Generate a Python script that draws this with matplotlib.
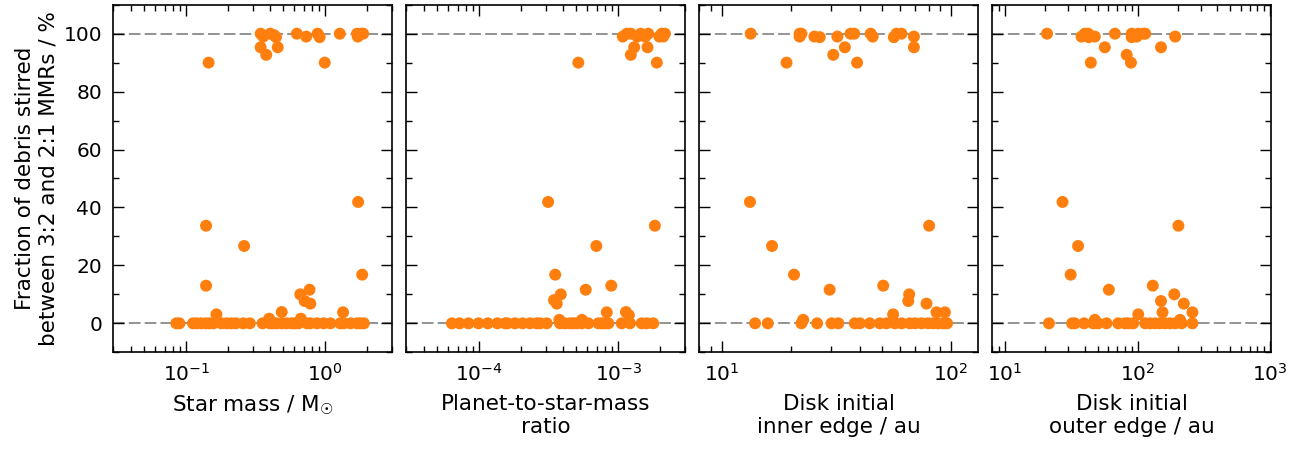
import matplotlib
matplotlib.use("Agg")
import matplotlib.pyplot as plt
from matplotlib.ticker import LogLocator, MultipleLocator, NullFormatter

# ---- Panel 1: star mass ----
mass_top_x = [0.145, 0.343, 0.358, 0.343, 0.376, 0.402, 0.428, 0.442, 0.455, 0.624, 0.729, 0.88, 0.91, 0.99, 1.27, 1.69, 1.71, 1.81, 1.87]
mass_top_y = [90, 100, 99, 95.3, 92.7, 100, 99.5, 98.8, 95.3, 100, 99, 100, 98.8, 90, 100, 100, 99, 100, 100]
mass_mid_x = [0.139, 0.261, 0.139, 1.72, 1.84, 0.165, 0.395, 0.486, 0.66, 0.77, 0.71, 0.78, 0.667, 1.34]
mass_mid_y = [33.7, 26.7, 13.0, 41.9, 16.8, 3.1, 1.6, 3.9, 10.0, 11.6, 7.7, 6.8, 1.6, 3.8]
mass_zero_x = [0.085, 0.0895, 0.112, 0.119, 0.128, 0.139, 0.147, 0.157, 0.179, 0.195, 0.211, 0.227, 0.257, 0.287,
               0.354, 0.40, 0.423, 0.447, 0.486, 0.528, 0.574, 0.607, 0.641, 0.738, 0.779, 0.871, 0.972, 1.087,
               1.28, 1.36, 1.52, 1.69, 1.79, 1.89]

# ---- Panel 2: planet-to-star mass ratio ----
ratio_top_x = [5.16e-4, 1.076e-3, 1.15e-3, 1.23e-3, 1.30e-3, 1.23e-3, 1.37e-3, 1.45e-3, 1.56e-3, 1.64e-3, 1.62e-3,
               1.89e-3, 1.97e-3, 2.05e-3, 2.16e-3, 2.10e-3]
ratio_top_y = [90, 99, 100, 100, 95.3, 92.7, 99, 100, 99, 100, 95.3, 90, 99, 100, 100, 99]
ratio_mid_x = [3.13e-4, 1.83e-3, 6.95e-4, 3.52e-4, 5.83e-4, 8.9e-4, 3.86e-4, 3.45e-4, 3.61e-4, 8.26e-4, 1.135e-3,
               1.19e-3, 3.77e-4, 5.48e-4]
ratio_mid_y = [41.9, 33.7, 26.7, 16.8, 11.6, 13.0, 10.0, 8.0, 6.8, 3.8, 3.9, 2.8, 1.2, 1.2]
ratio_zero_x = [6.37e-5, 7.23e-5, 8.38e-5, 9.88e-5, 1.153e-4, 1.352e-4, 1.537e-4, 1.596e-4, 1.81e-4, 2.05e-4,
                2.32e-4, 2.59e-4, 2.74e-4, 3.06e-4, 3.81e-4, 4.14e-4, 4.50e-4, 4.75e-4, 5.02e-4, 5.45e-4,
                6.09e-4, 7.19e-4, 7.60e-4, 8.03e-4, 8.48e-4, 1.057e-3, 1.213e-3, 1.47e-3, 1.60e-3, 1.78e-3]

# ---- Panel 3: disk inner edge ----
inner_top_x = [13.4, 19.2, 21.9, 22.3, 21.9, 25.4, 26.8, 30.7, 32.0, 34.5, 36.5, 37.9, 39.0, 44.7, 45.6, 56.4, 57.9,
               60.9, 69.0, 69.0]
inner_top_y = [100, 90, 100, 100, 99, 99, 98.8, 92.7, 99, 95.3, 100, 100, 90, 100, 99, 98.8, 100, 100, 99, 95.3]
inner_mid_x = [13.3, 16.6, 20.7, 29.6, 50.7, 56.0, 65.8, 65.2, 80.4, 78.3, 86.6, 94.2, 22.7]
inner_mid_y = [41.9, 26.7, 16.8, 11.6, 13.0, 3.1, 10.0, 7.7, 33.7, 6.8, 3.8, 3.8, 1.2]
inner_zero_x = [14.0, 15.9, 22.3, 26.1, 30.2, 32.3, 38.1, 40.1, 44.3, 49.0, 52.4, 57.0, 61.0, 66.2, 69.7, 74.5,
                79.6, 83.7, 88.1, 92.5, 96.3]

# ---- Panel 4: disk outer edge ----
outer_top_x = [20.7, 37.7, 39.9, 42.3, 42.7, 47.5, 44.3, 56.5, 67.3, 82.6, 89.0, 90.1, 90.1, 98.3, 101, 110, 114,
               150, 192]
outer_top_y = [100, 99, 100, 100, 98.8, 99, 90, 95.3, 100, 92.7, 90, 100, 98.8, 99, 100, 100, 100, 95.3, 99]
outer_mid_x = [27.1, 203, 35.5, 31.2, 60.6, 130, 189, 150, 223, 154, 259, 101, 47.5, 209]
outer_mid_y = [41.9, 33.7, 26.7, 16.8, 11.6, 13.0, 10.0, 7.7, 6.8, 3.8, 3.8, 3.1, 1.2, 1.2]
outer_zero_x = [21.4, 32.0, 33.5, 39.4, 46.1, 50.3, 58.2, 71.3, 80.1, 84.9, 92.6, 114, 124, 135, 147, 161, 176,
                192, 215, 259]

xlabels = ["Star mass / M$_{☉}$", "Planet-to-star-mass\nratio",
           "Disk initial\ninner edge / au", "Disk initial\nouter edge / au"]
ylabel = "Fraction of debris stirred\nbetween 3:2 and 2:1 MMRs / %"
xlims = [(0.03, 3.0), (3e-5, 3e-3), (8, 131), (8, 1010)]

panels = [
    (mass_top_x, mass_top_y, mass_mid_x, mass_mid_y, mass_zero_x),
    (ratio_top_x, ratio_top_y, ratio_mid_x, ratio_mid_y, ratio_zero_x),
    (inner_top_x, inner_top_y, inner_mid_x, inner_mid_y, inner_zero_x),
    (outer_top_x, outer_top_y, outer_mid_x, outer_mid_y, outer_zero_x),
]

plt.rcParams['font.family'] = ['DejaVu Sans']
plt.rcParams['font.size'] = 14
plt.rcParams['mathtext.fontset'] = 'dejavusans'

fig, axes = plt.subplots(1, 4, figsize=(13.06, 4.49), dpi=100, sharey=True)
fig.subplots_adjust(left=0.0868, right=0.973, bottom=0.2154, top=0.9895, wspace=0.0524)

color = '#ff7f0e'
for i, (ax, (tx, ty, mx, my, zx)) in enumerate(zip(axes, panels)):
    ax.set_xscale('log')
    ax.axhline(0, color='gray', lw=1.2, ls=(0, (7, 2.5)), zorder=1)
    ax.axhline(100, color='gray', lw=1.2, ls=(0, (7, 2.5)), zorder=1)
    xs = list(tx) + list(mx) + list(zx)
    ys = list(ty) + list(my) + [0] * len(zx)
    ax.scatter(xs, ys, s=74, color=color, edgecolors='none', zorder=3)
    ax.set_xlim(*xlims[i])
    ax.set_ylim(-10, 110)
    ax.yaxis.set_major_locator(MultipleLocator(20))
    ax.yaxis.set_minor_locator(MultipleLocator(10))
    ax.xaxis.set_major_locator(LogLocator(base=10, numticks=10))
    ax.xaxis.set_minor_locator(LogLocator(base=10, subs=range(2, 10), numticks=20))
    ax.xaxis.set_minor_formatter(NullFormatter())
    ax.tick_params(which='both', direction='in', top=True, right=True, labelsize=14.5)
    ax.tick_params(which='major', length=8, width=1.0, pad=8)
    ax.tick_params(which='minor', length=4, width=1.0)
    for sp in ax.spines.values():
        sp.set_linewidth(1.2)
    ax.set_xlabel(xlabels[i], fontsize=15.5, labelpad=6)
    if i > 0:
        ax.tick_params(labelleft=False)

axes[0].set_ylabel(ylabel, fontsize=15.5)

fig.savefig('out.png', dpi=100)
